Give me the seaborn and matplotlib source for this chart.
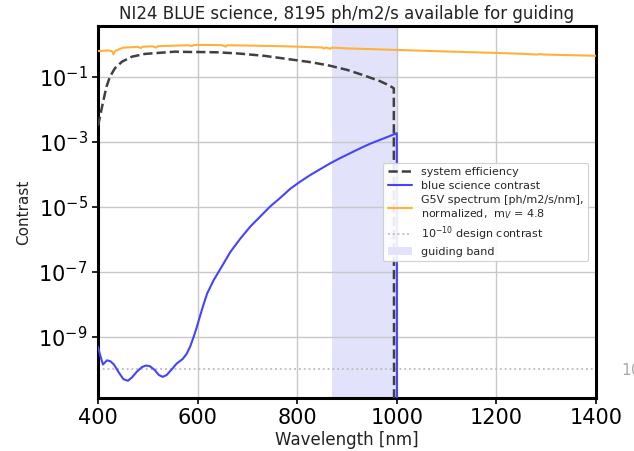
import numpy as np
import pandas as pd
import matplotlib
matplotlib.use("Agg")
import matplotlib.pyplot as plt
import seaborn as sns
from matplotlib.patches import Patch
from matplotlib.lines import Line2D

# ---- data (log10 values where noted) ----
eff_wl = [400, 403, 407, 411, 417, 424, 434, 448, 468, 494, 528, 555, 584, 600, 640, 685, 735, 785, 830,
          865, 900, 932, 965, 985, 994, 995]
eff_log = [-2.5, -2.3, -2.0, -1.71, -1.3, -0.99, -0.73, -0.53, -0.375, -0.29, -0.25, -0.22, -0.23, -0.23, -0.24,
           -0.28, -0.35, -0.455, -0.55, -0.65, -0.78, -0.94, -1.12, -1.26, -1.35, -20]
eff_val = [10.0 ** v for v in eff_log]

spec_wl = [400, 410, 420, 428, 431, 434, 450, 470, 480, 486, 490, 510, 517, 520, 540, 560, 580, 589, 592, 600,
           630, 650, 656, 660, 700, 750, 800, 850, 854, 858, 866, 870, 900, 950, 1000, 1050, 1100, 1150, 1200,
           1250, 1282, 1285, 1300, 1350, 1400]
spec_val = [0.63, 0.64, 0.66, 0.62, 0.50, 0.63, 0.80, 0.83, 0.85, 0.78, 0.86, 0.88, 0.80, 0.89, 0.91, 0.93, 0.95, 0.90, 0.96, 0.97,
            0.97, 0.95, 0.86, 0.95, 0.93, 0.90, 0.86, 0.81, 0.76, 0.81, 0.74, 0.80, 0.76, 0.72, 0.68, 0.645, 0.61, 0.58, 0.55,
            0.52, 0.49, 0.505, 0.49, 0.47, 0.45]

blue_wl = [400, 405, 410, 418, 425, 432, 442, 451, 460, 468, 478, 488, 496, 504, 514, 522, 530, 538, 548, 558,
           570, 578, 585, 592, 598, 605, 612, 619, 632, 646, 666, 686, 706, 726, 746, 766, 786, 806, 827, 847,
           867, 887, 907, 927, 947, 967, 987, 998, 1000, 1000.5]
blue_log = [-9.3, -9.6, -9.85, -9.72, -9.75, -9.85, -10.1, -10.3, -10.35, -10.25, -10.07, -9.93, -9.88, -9.9, -10.02,
            -10.17, -10.23, -10.17, -10.0, -9.82, -9.68, -9.52, -9.3, -9.0, -8.72, -8.35, -8.0, -7.67, -7.26, -6.9,
            -6.38, -5.97, -5.6, -5.29, -4.98, -4.72, -4.44, -4.22, -4.01, -3.83, -3.65, -3.49, -3.34, -3.19, -3.05,
            -2.93, -2.81, -2.74, -2.73, -20]
blue_val = [10.0 ** v for v in blue_log]

design_contrast = 1e-10
band = [870, 1000]
title = "NI24 BLUE science, 8195 ph/m2/s available for guiding"
yticks = [1e-9, 1e-7, 1e-5, 1e-3, 1e-1]
xticks = [400, 600, 800, 1000, 1200, 1400]

eff_df = pd.DataFrame({"wl": eff_wl, "val": eff_val})
spec_df = pd.DataFrame({"wl": spec_wl, "val": spec_val})
blue_df = pd.DataFrame({"wl": blue_wl, "val": blue_val})

sns.set_style("ticks")
plt.rcParams['font.family'] = ['DejaVu Sans']

fig = plt.figure(figsize=(6.34, 4.51), dpi=100)
ax = fig.add_axes([98/634, 1-398/451, (596-98)/634, (398-26)/451])

c_eff = '#404040'
c_blue = '#4444ff'
c_orange = '#ffb13b'
c_band = '#e2e2fb'
c_dot = '#bbbbbb'

ax.axvspan(band[0], band[1], color=c_band, lw=0, zorder=0)
ax.axhline(design_contrast, color=c_dot, ls=':', lw=1.3, zorder=1)
sns.lineplot(data=spec_df, x="wl", y="val", ax=ax, color=c_orange, lw=1.5, estimator=None, sort=False, zorder=3)
sns.lineplot(data=eff_df, x="wl", y="val", ax=ax, color=c_eff, lw=1.8, ls=(0, (3.7, 1.6)), estimator=None, sort=False, zorder=3)
sns.lineplot(data=blue_df, x="wl", y="val", ax=ax, color=c_blue, lw=1.5, estimator=None, sort=False, zorder=4)

ax.set_yscale('log')
ax.set_xlim(400, 1400)
ax.set_ylim(10 ** -10.88, 10 ** 0.57)
ax.set_yticks(yticks)
ax.yaxis.set_minor_locator(matplotlib.ticker.NullLocator())
ax.set_xticks(xticks)
ax.tick_params(axis='both', labelsize=15, length=4, width=1.2, colors='black')
ax.grid(True, color='#c8c8c8', lw=1.0, zorder=0)
ax.set_axisbelow(True)
for s in ax.spines.values():
    s.set_linewidth(2.2)
    s.set_color('black')

ax.set_title(title, fontsize=12, pad=5, color='#222222')
ax.set_xlabel("Wavelength [nm]", fontsize=12, labelpad=2, color='#222222')
ax.set_ylabel("Contrast", fontsize=11, color='#222222')
ax.yaxis.set_label_coords(-0.135, 0.5)

ax.text(1450, design_contrast, '10$^{-10}$', va='center', ha='left', color='#aaaaaa', fontsize=11, clip_on=False)

handles = [
    Line2D([], [], color=c_eff, lw=1.8, ls=(0, (3.7, 1.6))),
    Line2D([], [], color=c_blue, lw=1.5),
    Line2D([], [], color=c_orange, lw=1.5),
    Line2D([], [], color=c_dot, lw=1.3, ls=':'),
    Patch(facecolor=c_band, edgecolor='none'),
]
labels = ["system efficiency", "blue science contrast",
          "G5V spectrum [ph/m2/s/nm],\nnormalized,  m$_V$ = 4.8",
          "10$^{-10}$ design contrast", "guiding band"]
leg = ax.legend(handles, labels, loc='center right', fontsize=8, frameon=True,
                framealpha=0.9, borderpad=0.4, labelspacing=0.35, handlelength=2.2,
                bbox_to_anchor=(0.995, 0.5))
leg.get_frame().set_edgecolor('#cccccc')
leg.get_frame().set_linewidth(0.8)

fig.savefig("out.png", dpi=100)
